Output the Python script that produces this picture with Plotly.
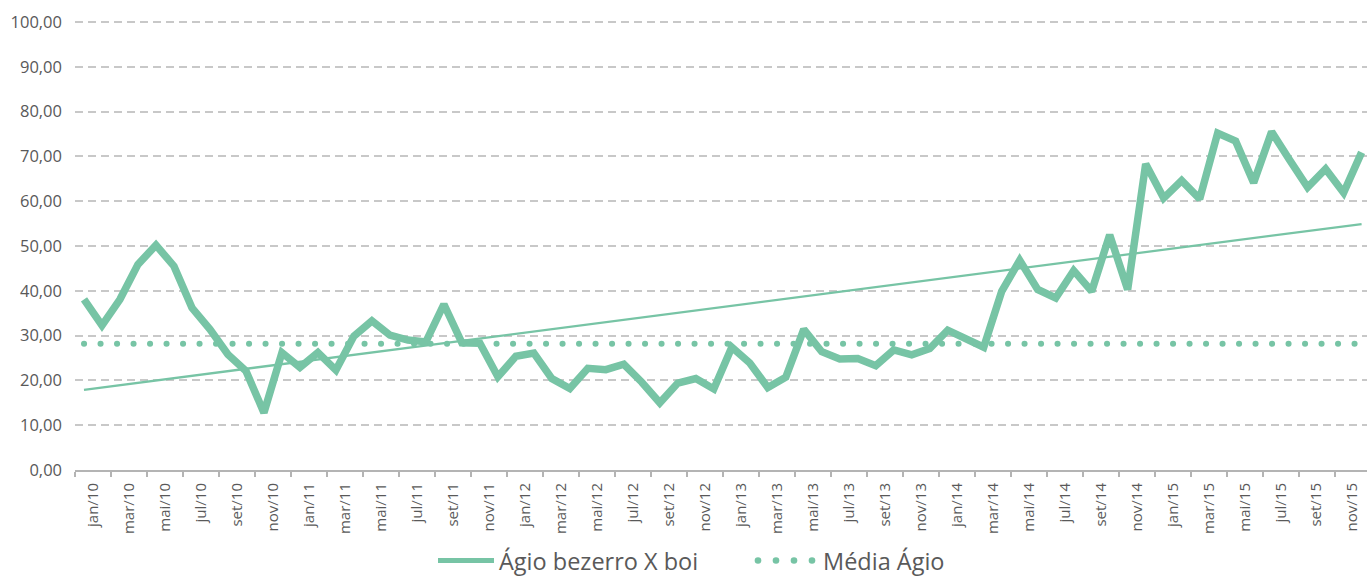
import plotly.graph_objects as go

# ---- data ----
months = [
    "jan/10", "fev/10", "mar/10", "abr/10", "mai/10", "jun/10", "jul/10", "ago/10", "set/10", "out/10", "nov/10", "dez/10",
    "jan/11", "fev/11", "mar/11", "abr/11", "mai/11", "jun/11", "jul/11", "ago/11", "set/11", "out/11", "nov/11", "dez/11",
    "jan/12", "fev/12", "mar/12", "abr/12", "mai/12", "jun/12", "jul/12", "ago/12", "set/12", "out/12", "nov/12", "dez/12",
    "jan/13", "fev/13", "mar/13", "abr/13", "mai/13", "jun/13", "jul/13", "ago/13", "set/13", "out/13", "nov/13", "dez/13",
    "jan/14", "fev/14", "mar/14", "abr/14", "mai/14", "jun/14", "jul/14", "ago/14", "set/14", "out/14", "nov/14", "dez/14",
    "jan/15", "fev/15", "mar/15", "abr/15", "mai/15", "jun/15", "jul/15", "ago/15", "set/15", "out/15", "nov/15", "dez/15",
]

agio = [
    38.1, 32.3, 38.1, 45.9, 50.2, 45.5, 36.2, 31.4, 25.8, 22.1, 12.8, 26.2,
    22.9, 26.2, 22.3, 29.9, 33.3, 30.1, 29.0, 28.6, 37.0, 28.4, 28.3, 20.8,
    25.4, 26.1, 20.4, 18.2, 22.7, 22.4, 23.6, 19.6, 15.0, 19.4, 20.4, 18.1,
    27.4, 23.9, 18.4, 20.7, 31.4, 26.4, 24.8, 24.9, 23.3, 26.8, 25.7, 27.1,
    31.2, 29.2, 27.4, 39.9, 46.8, 40.3, 38.4, 44.5, 39.9, 52.5, 40.3, 68.3,
    60.7, 64.6, 60.5, 75.2, 73.4, 64.1, 75.5, 69.2, 63.1, 67.2, 61.9, 70.9,
]

media_agio = [28.2] * len(months)

trend_months = ["jan/10", "dez/15"]
trend_values = [17.9, 54.9]

tick_labels = months[::2]

y_ticks = [0, 10, 20, 30, 40, 50, 60, 70, 80, 90, 100]

series_names = ["Ágio bezerro X boi", "Média Ágio"]

# ---- styles / layout constants ----
GREEN = "#77C4A5"
TEXT = "#595959"
FONT = "Open Sans"
W, H = 1367, 576
ML, MR, MT, MB = 75, 0, 20, 106
PW, PH = W - ML - MR, H - MT - MB


def px_x(px):
    return (px - ML) / PW


def px_y(py):
    return (H - MB - py) / PH


idx = list(range(len(months)))
trend_idx = [months.index(m) for m in trend_months]

fig = go.Figure()

fig.add_trace(go.Scatter(
    x=trend_idx, y=trend_values, mode="lines",
    line=dict(color=GREEN, width=2.25),
    showlegend=False, hoverinfo="skip",
))

fig.add_trace(go.Scatter(
    x=idx, y=agio, mode="lines", name=series_names[0],
    line=dict(color=GREEN, width=7.5),
    showlegend=False,
))

fig.add_trace(go.Scatter(
    x=idx, y=media_agio, mode="lines", name=series_names[1],
    line=dict(color=GREEN, width=6, dash="0.1px,16.4px"),
    showlegend=False,
))

# ---- custom legend (samples as shapes, labels as text) ----
legend_y = 560.5
shapes = [
    dict(type="line", xref="paper", yref="paper",
         x0=px_x(438), x1=px_x(494), y0=px_y(legend_y), y1=px_y(legend_y),
         line=dict(color=GREEN, width=5)),
]
for cx in (758, 776, 794, 812):
    shapes.append(dict(
        type="circle", xref="paper", yref="paper",
        xsizemode="pixel", ysizemode="pixel",
        xanchor=px_x(cx), yanchor=px_y(legend_y),
        x0=-3.3, x1=3.3, y0=-3.3, y1=3.3,
        fillcolor=GREEN, line=dict(width=0),
    ))

annotations = [
    dict(xref="paper", yref="paper", x=px_x(497), y=px_y(561),
         xanchor="left", yanchor="middle", showarrow=False,
         text=series_names[0], font=dict(size=23.5, color=TEXT, family=FONT)),
    dict(xref="paper", yref="paper", x=px_x(821), y=px_y(561),
         xanchor="left", yanchor="middle", showarrow=False,
         text=series_names[1], font=dict(size=23.5, color=TEXT, family=FONT)),
]

fig.update_layout(
    width=W, height=H,
    margin=dict(l=ML, r=MR, t=MT, b=MB, autoexpand=False),
    paper_bgcolor="white", plot_bgcolor="white",
    separators=",.",
    font=dict(family=FONT, color=TEXT),
    showlegend=False,
    shapes=shapes,
    annotations=annotations,
    xaxis=dict(
        range=[-0.5, 71.3],
        automargin=False,
        tickmode="array",
        tickvals=[i + 0.5 for i in idx[::2]],
        ticktext=tick_labels,
        tickangle=-90,
        tickfont=dict(size=15, color=TEXT, family=FONT),
        ticks="",
        showgrid=False,
        showline=True, linecolor="#b4b4b4", linewidth=2,
        zeroline=False,
        ticklabelstandoff=5,
        minor=dict(tickmode="linear", tick0=-0.5, dtick=2, ticks="outside",
                   ticklen=5, tickcolor="#b4b4b4", tickwidth=2, showgrid=False),
    ),
    yaxis=dict(
        range=[0, 100.45],
        automargin=False,
        tickmode="array",
        tickvals=y_ticks,
        tickformat=".2f",
        tickfont=dict(size=16.5, color=TEXT, family=FONT),
        showgrid=True, gridcolor="#c8c8c8", gridwidth=2, griddash="8px,5px",
        zeroline=False,
        showline=False,
        ticks="",
        ticklabelstandoff=12,
    ),
)

post = """
var s = document.createElement('style');
s.innerHTML = 'html, body {margin: 0; padding: 0; overflow: hidden;} .scatterlayer .trace:nth-child(3) .js-line {stroke-linecap: round;}';
document.head.appendChild(s);
"""

fig.write_html("out.html", post_script=post, config={"displayModeBar": False})
